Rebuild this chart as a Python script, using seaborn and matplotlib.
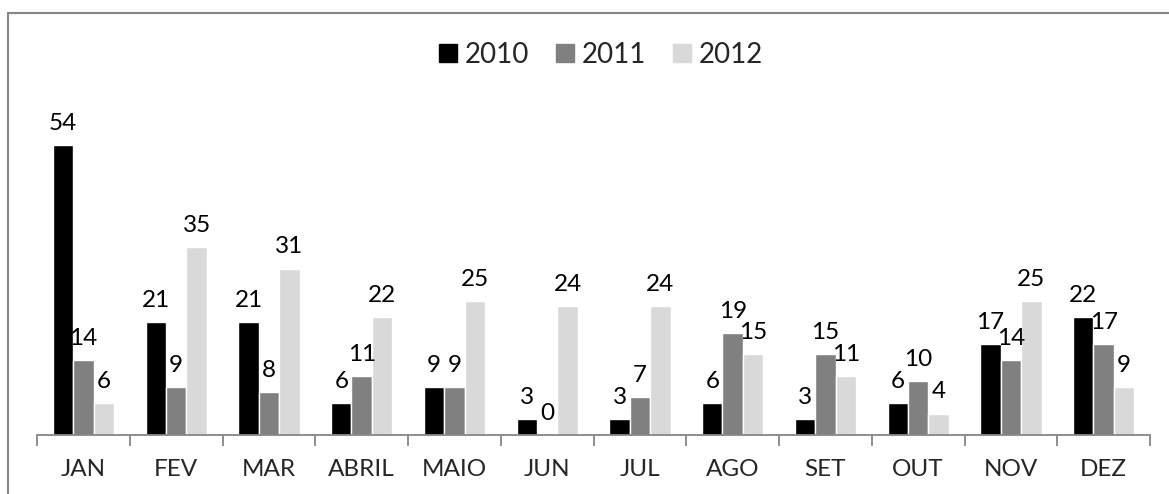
#!/usr/bin/env python3
"""Monthly counts per year, grouped bar chart (2010-2012)."""

import pandas as pd
import matplotlib.pyplot as plt
from matplotlib.lines import Line2D
import seaborn as sns

# Data
MONTHS = ['JAN', 'FEV', 'MAR', 'ABRIL', 'MAIO', 'JUN', 'JUL', 'AGO', 'SET', 'OUT', 'NOV', 'DEZ']
YEARS = ['2010', '2011', '2012']
VALUES_2010 = [54, 21, 21, 6, 9, 3, 3, 6, 3, 6, 17, 22]
VALUES_2011 = [14, 9, 8, 11, 9, 0, 7, 19, 15, 10, 14, 17]
VALUES_2012 = [6, 35, 31, 22, 25, 24, 24, 15, 11, 4, 25, 9]

PALETTE = ['#000000', '#808080', '#d9d9d9']
FONT_SIZE = 17.5
LEGEND_SIZE = 20


def build_frame():
    rows = []
    for year, vals in zip(YEARS, [VALUES_2010, VALUES_2011, VALUES_2012]):
        for month, v in zip(MONTHS, vals):
            rows.append({'month': month, 'year': year, 'value': v})
    return pd.DataFrame(rows)


def main():
    df = build_frame()

    sns.set_theme(style='white')
    plt.rcParams['font.family'] = ['Lato', 'DejaVu Sans']

    fig = plt.figure(figsize=(11.69, 4.94), dpi=100)
    ax = fig.add_axes([0.0317, 0.1194, 0.9521, 0.652])

    sns.barplot(data=df, x='month', y='value', hue='year', order=MONTHS,
                hue_order=YEARS, palette=PALETTE, width=0.66, saturation=1,
                legend=False, ax=ax)

    # value labels above each bar
    for cont in ax.containers:
        ax.bar_label(cont, padding=8, fontsize=FONT_SIZE, color='black')

    ax.set_xlim(-0.5, len(MONTHS) - 0.5)
    ax.set_ylim(0, 60)
    ax.set_xlabel('')
    ax.set_ylabel('')
    ax.set_yticks([])

    # ticks between the categories, labels at the centres
    ax.set_xticks(range(len(MONTHS)))
    ax.set_xticklabels(MONTHS, fontsize=FONT_SIZE)
    ax.set_xticks([i - 0.5 for i in range(len(MONTHS) + 1)], minor=True)
    ax.tick_params(axis='x', which='major', length=0, pad=17)
    ax.tick_params(axis='x', which='minor', length=8, width=1.3,
                   color='#868686', bottom=True)

    for side in ['top', 'right', 'left']:
        ax.spines[side].set_visible(False)
    ax.spines['bottom'].set_color('#868686')
    ax.spines['bottom'].set_linewidth(1.3)
    ax.patch.set_visible(False)

    # legend at the top
    handles = [Line2D([], [], marker='s', linestyle='', markersize=13,
                      markerfacecolor=c, markeredgecolor=c) for c in PALETTE]
    fig.legend(handles, YEARS, loc='center', bbox_to_anchor=(0.513, 0.889),
               ncol=3, frameon=False, fontsize=LEGEND_SIZE, handletextpad=0.2,
               columnspacing=0.9, handlelength=0.8)

    # chart frame (only top and left edges fall inside the image)
    x0 = 8 / 1169
    y0 = 1 - 13 / 494
    fig.add_artist(Line2D([x0, 1.0], [y0, y0], color='#868686', lw=1.5,
                          transform=fig.transFigure))
    fig.add_artist(Line2D([x0, x0], [0, y0], color='#868686', lw=1.5,
                          transform=fig.transFigure))

    fig.savefig('out.png', dpi=100, facecolor='white')
    plt.close(fig)


if __name__ == '__main__':
    main()
